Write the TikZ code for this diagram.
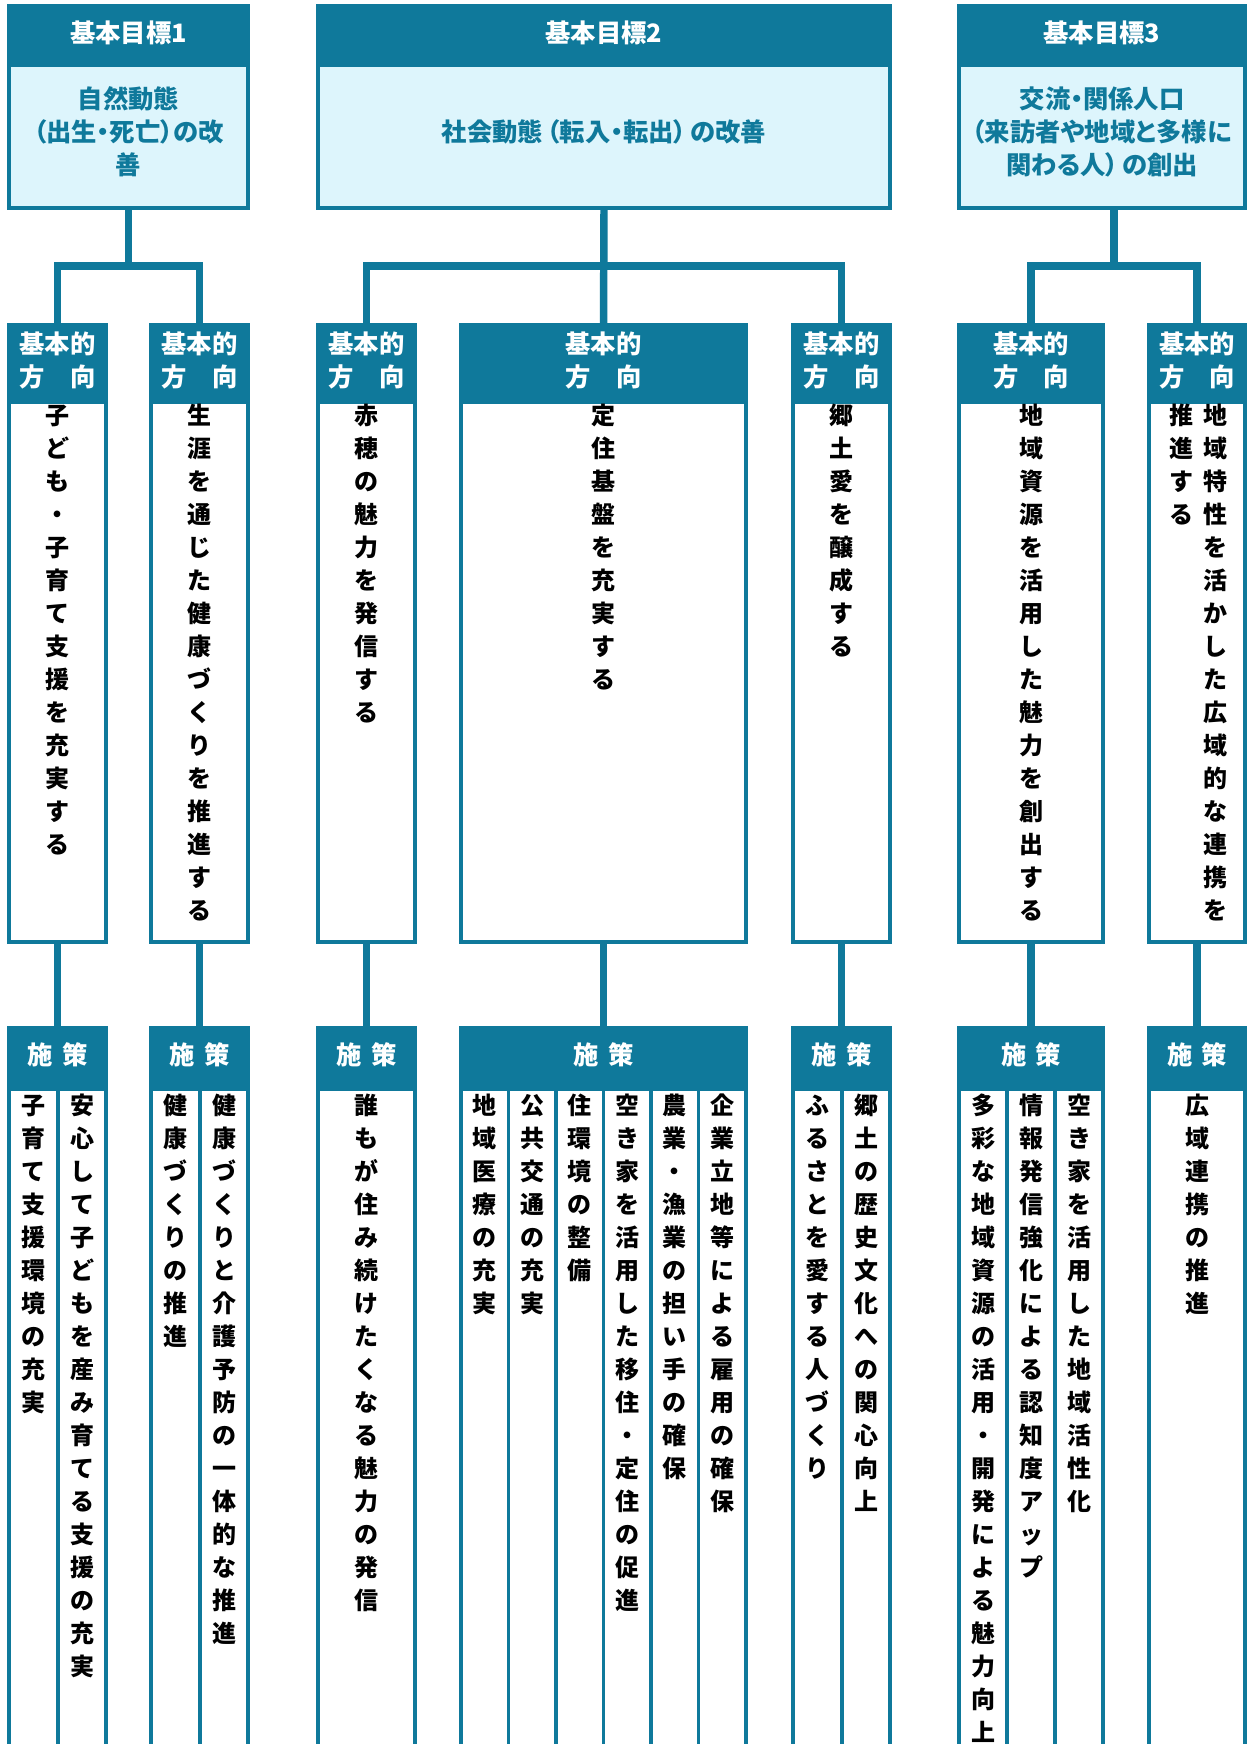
\documentclass[tikz,border=0pt]{standalone}
\usepackage{fontspec}
\setmainfont{Noto Sans CJK JP}
\newfontfamily\jpp{Noto Sans CJK JP}[RawFeature=+palt]
\definecolor{teal1}{HTML}{0F799B}
\definecolor{light1}{HTML}{DDF5FC}
\def\vcolloop#1{\ifx\relax#1\else\hbox to 18pt{\hss\vrule height 19.2pt depth 5.55pt width 0pt\relax #1\hss}\expandafter\vcolloop\fi}
\newcommand\vcol[1]{\vbox{\offinterlineskip\vcolloop#1\relax}}
\newcommand\mybox[6]{\node[#1, minimum width={(#5-#3)*0.75pt}, minimum height={(#6-#4)*0.75pt}] (#2) at (#3,#4) {};}
\tikzset{
  conn/.style={draw=teal1, line width=5.6pt},
  boxbody/.style={draw=teal1, fill=white, line width=2.6pt, inner sep=0pt, outer sep=0pt, anchor=north west},
  topbody/.style={boxbody, fill=light1},
  hd/.style={boxbody, fill=teal1},
  hdtext/.style={inner sep=0pt, text=white, align=center, font=\jpp\fontsize{19pt}{24.75pt}\selectfont\bfseries},
  toptext/.style={inner sep=0pt, text=teal1, align=center, font=\jpp\fontsize{19pt}{24.75pt}\selectfont\bfseries},
  vt/.style={inner sep=0pt, anchor=north, font=\fontsize{18pt}{24.75pt}\selectfont\bfseries},
  divl/.style={draw=teal1, line width=2.6pt}
}
\begin{document}
\begin{tikzpicture}[x=0.75pt, y=-0.75pt]
\useasboundingbox (0,0) rectangle (1247,1744);
\clip (0,0) rectangle (1247,1744);
\fill[white] (0,0) rectangle (1247,1744);

% ---------- top level ----------
\mybox{topbody}{g1}{9}{6}{248}{208}
\mybox{hd}{g1h}{9}{6}{248}{65}
\node[hdtext] (g1ht) at (128.5,33) {基本目標1};
\node[toptext] (g1t) at (128.5,132) {自然動態\\（出生・死亡）の改\\善};

\mybox{topbody}{g2}{318}{6}{890}{208}
\mybox{hd}{g2h}{318}{6}{890}{65}
\node[hdtext] (g2ht) at (604,33) {基本目標2};
\node[toptext] (g2t) at (604,132) {社会動態\hspace{3pt}（転入・転出）\hspace{3pt}の改善};

\mybox{topbody}{g3}{959}{6}{1245}{208}
\mybox{hd}{g3h}{959}{6}{1245}{65}
\node[hdtext] (g3ht) at (1102,33) {基本目標3};
\node[toptext] (g3t) at (1102,132) {交流・関係人口\\（来訪者や地域と多様に\\関わる人）\hspace{3pt}の創出};

% ---------- level 2 ----------
\foreach \n/\a/\b in {d1/9/106, d2/151/248, d3/318/415, d4/461/746, d5/793/890, d6/959/1103, d7/1149/1245}{
  \mybox{boxbody}{\n}{\a}{325}{\b}{942}
  \mybox{hd}{\n h}{\a}{325}{\b}{402}
  \node[hdtext] (\n ht) at ({(\a+\b)/2},360) {基本的\\方　向};
}
\node[vt] (d1t) at (57.5,398.5) {\vcol{子ども・子育て支援を充実する}};
\node[vt] (d2t) at (199.5,398.5) {\vcol{生涯を通じた健康づくりを推進する}};
\node[vt] (d3t) at (366.5,398.5) {\vcol{赤穂の魅力を発信する}};
\node[vt] (d4t) at (603.5,398.5) {\vcol{定住基盤を充実する}};
\node[vt] (d5t) at (841.5,398.5) {\vcol{郷土愛を醸成する}};
\node[vt] (d6t) at (1031,398.5) {\vcol{地域資源を活用した魅力を創出する}};
\node[vt] (d7ta) at (1215,398.5) {\vcol{地域特性を活かした広域的な連携を}};
\node[vt] (d7tb) at (1181,398.5) {\vcol{推進する}};

% ---------- level 3 ----------
\foreach \n/\a/\b in {s1/9/106, s2/151/248, s3/318/415, s4/461/746, s5/793/890, s6/959/1103, s7/1149/1245}{
  \mybox{boxbody}{\n}{\a}{1028}{\b}{1770}
  \mybox{hd}{\n h}{\a}{1028}{\b}{1089}
  \node[hdtext] (\n ht) at ({(\a+\b)/2},1055) {施\hspace{7pt}策};
}
% column dividers
\foreach \x in {58, 200, 508.5, 556, 603.5, 651, 698.5, 842, 1007, 1055}{
  \draw[divl] (\x,1089) -- (\x,1770);
}
\node[vt] (s1a) at (33.5,1088.5) {\vcol{子育て支援環境の充実}};
\node[vt] (s1b) at (82,1088.5) {\vcol{安心して子どもを産み育てる支援の充実}};
\node[vt] (s2a) at (175,1088.5) {\vcol{健康づくりの推進}};
\node[vt] (s2b) at (224,1088.5) {\vcol{健康づくりと介護予防の一体的な推進}};
\node[vt] (s3a) at (366.5,1088.5) {\vcol{誰もが住み続けたくなる魅力の発信}};
\node[vt] (s4a) at (484.75,1088.5) {\vcol{地域医療の充実}};
\node[vt] (s4b) at (532.25,1088.5) {\vcol{公共交通の充実}};
\node[vt] (s4c) at (579.75,1088.5) {\vcol{住環境の整備}};
\node[vt] (s4d) at (627.25,1088.5) {\vcol{空き家を活用した移住・定住の促進}};
\node[vt] (s4e) at (674.75,1088.5) {\vcol{農業・漁業の担い手の確保}};
\node[vt] (s4f) at (722.25,1088.5) {\vcol{企業立地等による雇用の確保}};
\node[vt] (s5a) at (817.5,1088.5) {\vcol{ふるさとを愛する人づくり}};
\node[vt] (s5b) at (866,1088.5) {\vcol{郷土の歴史文化への関心向上}};
\node[vt] (s6a) at (983,1088.5) {\vcol{多彩な地域資源の活用・開発による魅力向上}};
\node[vt] (s6b) at (1031,1088.5) {\vcol{情報発信強化による認知度アップ}};
\node[vt] (s6c) at (1079,1088.5) {\vcol{空き家を活用した地域活性化}};
\node[vt] (s7a) at (1197,1088.5) {\vcol{広域連携の推進}};

% ---------- connectors ----------
\path (g1.south) ++(0,58) coordinate (j1);
\draw[conn] (g1.south) -- (j1);
\draw[conn] (d1.north) |- (j1) -| (d2.north);

\path (g2.south) ++(0,58) coordinate (j2);
\draw[conn] (g2.south) -- (d4.north);
\draw[conn] (d3.north) |- (j2) -| (d5.north);

\path (g3.south) ++(12,0) coordinate (g3c);
\path (g3c) ++(0,58) coordinate (j3);
\draw[conn] (g3c) -- (j3);
\draw[conn] (d6.north) |- (j3) -| (d7.north);

\foreach \i in {1,...,7}{
  \draw[conn] (d\i.south) -- (s\i.north);
}
\end{tikzpicture}
\end{document}
